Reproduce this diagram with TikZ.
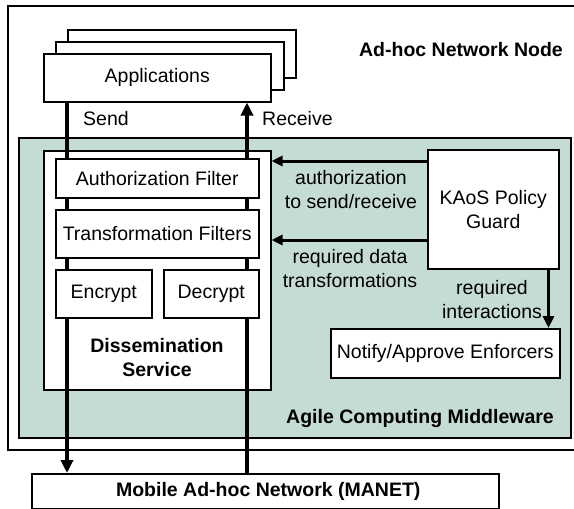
\documentclass[tikz,border=0pt]{standalone}
\usepackage{fontspec}
\setmainfont{Liberation Sans}
\usetikzlibrary{arrows.meta}
\definecolor{middleware}{RGB}{197,219,214}
\tikzset{
  box/.style={draw=black, line width=1.5pt, fill=white, rectangle, inner sep=0pt, align=center},
  bigflow/.style={line width=4.2pt, -{Triangle[length=13pt,width=12pt]}},
  policyflow/.style={line width=3pt, -{Triangle[length=11pt,width=10pt]}},
  lbl/.style={inner sep=0pt, align=center},
  boldlbl/.style={lbl, font=\fontsize{19.5}{24}\selectfont\bfseries},
}
\begin{document}
\begin{tikzpicture}[x=1pt, y=-1pt, font=\fontsize{19.5}{24}\selectfont]
\useasboundingbox (0,0) rectangle (574,509);

% Network node and middleware layers
\node[draw, line width=2pt, minimum width=569pt, minimum height=444pt, anchor=north west] (node) at (7,5) {};
\node[draw, line width=1.5pt, fill=middleware, minimum width=552pt, minimum height=300pt, anchor=north west] (acm) at (18,137) {};
\node[box, minimum width=227pt, minimum height=239pt, anchor=north west] (dissem) at (43,150) {};

% MANET at the bottom
\node[box, boldlbl, draw, fill=white, line width=1.5pt, minimum width=467pt, minimum height=35pt, anchor=north west] (manet) at (31,473) {};
\node[boldlbl] (manetlbl) at ([xshift=3pt]manet.center) {Mobile Ad-hoc Network (MANET)};

% Application stack
\node[box, minimum width=228pt, minimum height=48pt, anchor=north west] (app3) at (67,29) {};
\node[box, minimum width=228pt, minimum height=48pt, anchor=north west] (app2) at (55,41) {};
\node[box, minimum width=227pt, minimum height=48pt, anchor=north west] (apps) at (43,53) {Applications};

% Send / receive data paths
\coordinate (sendx) at (67,0);
\coordinate (recvx) at (247,0);
\draw[bigflow] (apps.south -| sendx) -- (manet.north -| sendx);
\draw[bigflow] (manet.north -| recvx) -- (apps.south -| recvx);

% Filters inside the dissemination service
\node[box, minimum width=203pt, minimum height=39pt, anchor=north west] (auth) at (55,158) {Authorization Filter};
\node[box, minimum width=203pt, minimum height=48pt, anchor=north west] (trans) at (55,209) {Transformation Filters};
\node[box, minimum width=96pt, minimum height=48pt, anchor=north west] (enc) at (55,269) {Encrypt};
\node[box, minimum width=95pt, minimum height=48pt, anchor=north west] (dec) at (163,269) {Decrypt};
\node[boldlbl] (dslabel) at (157,358) {Dissemination\\Service};

% Policy components
\node[box, minimum width=131pt, minimum height=119pt, anchor=north west] (kaos) at (427,149) {KAoS Policy\\Guard};
\node[box, minimum width=229pt, minimum height=49pt, anchor=north west] (notify) at (330,328) {Notify/Approve Enforcers};

\coordinate (authsrc) at ([yshift=-12pt]kaos.north west);
\coordinate (transsrc) at ([yshift=-91pt]kaos.north west);
\coordinate (intsrc) at ([xshift=-11pt]kaos.south east);
\draw[policyflow] (authsrc) -- (authsrc -| dissem.east);
\draw[policyflow] (transsrc) -- (transsrc -| dissem.east);
\draw[line width=3.5pt, -{Triangle[length=12pt,width=11pt]}] (intsrc) -- (intsrc |- notify.north);

% Labels
\node[lbl, anchor=west] (sendlbl) at (83,119) {Send};
\node[lbl, anchor=west] (recvlbl) at (262,119) {Receive};
\node[lbl] (authlbl) at (351,190) {authorization\\to send/receive};
\node[lbl] (translbl) at (350,269) {required data\\transformations};
\node[lbl] (intlbl) at (492,300) {required\\interactions};
\node[boldlbl, anchor=east] (nodelbl) at (563,50) {Ad-hoc Network Node};
\node[boldlbl, anchor=east] (acmlbl) at (554,418) {Agile Computing Middleware};
\end{tikzpicture}
\end{document}
